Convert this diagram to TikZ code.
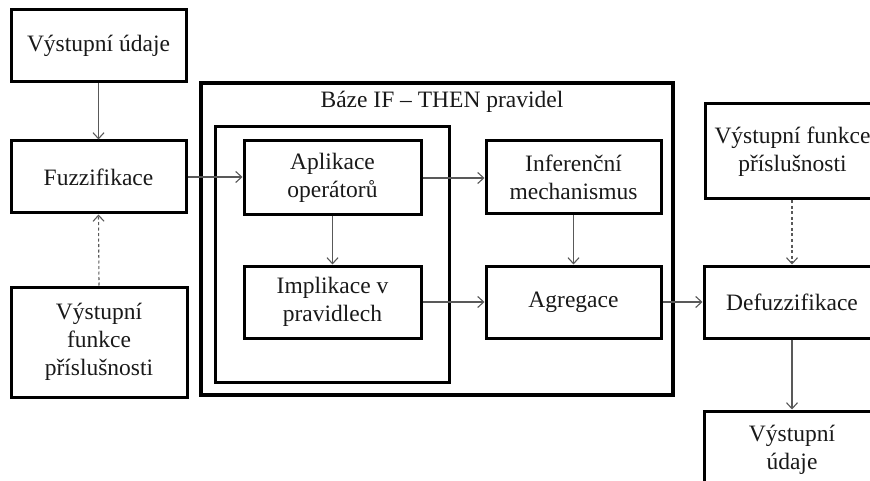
\documentclass[tikz,border=0pt]{standalone}
\usepackage{fontspec}
\setmainfont{Liberation Serif}
\usetikzlibrary{arrows.meta}

\tikzset{
  box/.style={draw=black, line width=3pt, rectangle, align=center,
    font=\fontsize{23.5}{28}\selectfont, text=black!90, inner sep=2pt},
  flow/.style={draw=black!65, line width=1.1pt,
    -{Straight Barb[length=6pt,width=11pt,line width=1.1pt]}},
  aux/.style={flow, dash pattern=on 3pt off 2.5pt},
}

\begin{document}
\begin{tikzpicture}[x=1pt, y=-1pt]
  \useasboundingbox (0,0) rectangle (870,481);
  \clip (0,0) rectangle (870,481);

  % rule base frame and its inner group
  \draw[line width=4.5pt] (201,83) rectangle (673,395);
  \draw[line width=3pt] (215,127) rectangle (449,382);
  \node[font=\fontsize{23.5}{28}\selectfont, text=black!90] (title) at (442,102) {Báze IF – THEN pravidel};

  % input side
  \node[box, minimum width=175pt, minimum height=72pt] (vin) at (98.5,46) {Výstupní údaje};
  \node[box, minimum width=175pt, minimum height=72pt] (fuzz) at (98.5,177) {Fuzzifikace};
  \node[box, minimum width=176pt, minimum height=110pt] (mfin) at (99,342) {Výstupní\\funkce\\příslušnosti};

  % rule base steps
  \node[box, minimum width=177pt, minimum height=74pt] (apl) at (332.5,178) {Aplikace\\operátorů};
  \node[box, minimum width=177pt, minimum height=72pt] (impl) at (332.5,302) {Implikace v\\pravidlech};
  \node[box, minimum width=175pt, minimum height=73pt] (inf) at (573.5,177.5) {Inferenční\\mechanismus};
  \node[box, minimum width=175pt, minimum height=72pt] (agr) at (573.5,302) {Agregace};

  % output side
  \node[box, minimum width=175pt, minimum height=95pt] (mfout) at (792.5,151.5) {Výstupní funkce\\příslušnosti};
  \node[box, minimum width=176pt, minimum height=72pt] (defuzz) at (792,302) {Defuzzifikace};
  \node[box, minimum width=176pt, minimum height=78pt] (vout) at (792,450) {Výstupní\\údaje};

  % connectors
  \draw[flow] (vin.south) -- (fuzz.north);
  \draw[aux] (mfin.north) -- (fuzz.south);
  \draw[flow] (fuzz.east) -- (fuzz.east -| apl.west);
  \draw[flow] (apl.east) -- (apl.east -| inf.west);
  \draw[flow] (apl.south) -- (impl.north);
  \draw[flow] (inf.south) -- (agr.north);
  \draw[flow] (impl.east) -- (agr.west);
  \draw[flow] (agr.east) -- (defuzz.west);
  \draw[aux] (mfout.south -| defuzz.north) -- (defuzz.north);
  \draw[flow] (defuzz.south) -- (vout.north);
\end{tikzpicture}
\end{document}
